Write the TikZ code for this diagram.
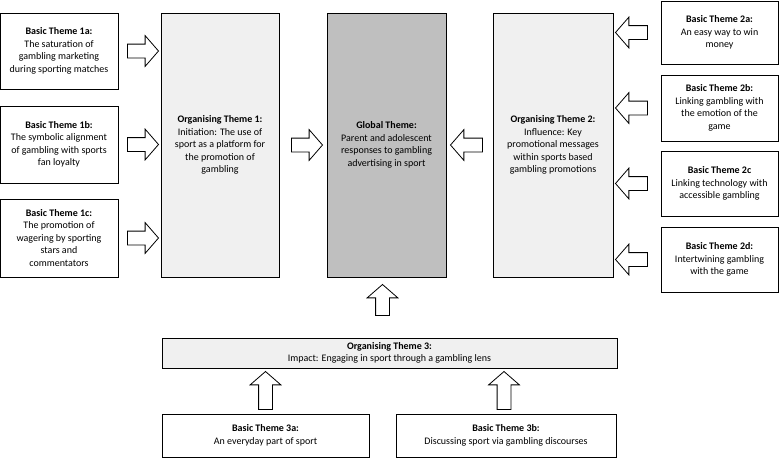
\documentclass[tikz,border=0pt]{standalone}
\usepackage{fontspec}
\setmainfont{Carlito}
\usepackage{tikz}
\usetikzlibrary{calc,shapes.arrows}

\definecolor{orgfill}{RGB}{240,240,240}
\definecolor{globfill}{RGB}{191,191,191}
\newcommand{\thm}{\fontsize{10}{12.5}\selectfont}

\tikzset{
  basic/.style={draw, line width=1pt, align=center, font=\thm, inner sep=1pt},
  organise/.style={basic, fill=orgfill},
  global/.style={basic, fill=globfill},
  blockarrow/.style={single arrow, draw, fill=white, line width=0.8pt,
    minimum width=30pt, single arrow head extend=8.5pt,
    single arrow tip angle=98, inner xsep=0pt, inner ysep=6.5pt,
    sloped, allow upside down}
}

\newcommand{\blockarrow}[2]{%
  \path let \p1=#1, \p2=#2, \n1={veclen(\x2-\x1,\y2-\y1)} in
    (\p1) -- (\p2) node[blockarrow, midway, minimum height=\n1] {};
}

\begin{document}
\begin{tikzpicture}[x=1pt,y=-1pt]
            \useasboundingbox (0,0) rectangle (779,459);

            \node[basic, minimum width=118, minimum height=76] (b1a) at (59,51)
              {\textbf{Basic Theme 1a:}\\The saturation of\\gambling marketing\\during sporting matches};
            \node[basic, minimum width=118, minimum height=77] (b1b) at (59,144.5)
              {\textbf{Basic Theme 1b:}\\The symbolic alignment\\of gambling with sports\\fan loyalty};
            \node[basic, minimum width=118, minimum height=78] (b1c) at (59,238)
              {\textbf{Basic Theme 1c:}\\The promotion of\\wagering by sporting\\stars and\\commentators};

            \node[organise, minimum width=118, minimum height=264] (o1) at (220,145)
              {\textbf{Organising Theme 1:}\\Initiation: The use of\\sport as a platform for\\the promotion of\\gambling};
            \node[global, minimum width=119, minimum height=264] (gt) at (386.5,145)
              {\textbf{Global Theme:}\\Parent and adolescent\\responses to gambling\\advertising in sport};
            \node[organise, minimum width=120, minimum height=264] (o2) at (553,145)
              {\textbf{Organising Theme 2:}\\Influence: Key\\promotional messages\\within sports based\\gambling promotions};

            \node[basic, minimum width=117, minimum height=63] (b2a) at (719.5,32.5)
              {\textbf{Basic Theme 2a:}\\An easy way to win\\money};
            \node[basic, minimum width=117, minimum height=66] (b2b) at (719.5,108)
              {\textbf{Basic Theme 2b:}\\Linking gambling with\\the emotion of the\\game};
            \node[basic, minimum width=117, minimum height=65] (b2c) at (719.5,183.5)
              {\textbf{Basic Theme 2c}\\Linking technology with\\accessible gambling};
            \node[basic, minimum width=117, minimum height=65] (b2d) at (719.5,259.5)
              {\textbf{Basic Theme 2d:}\\Intertwining gambling\\with the game};

            \node[organise, minimum width=455, minimum height=30] (o3) at (389.5,353)
              {\textbf{Organising Theme 3:}\\Impact: Engaging in sport through a gambling lens};
            \node[basic, minimum width=207, minimum height=43] (b3a) at (265.5,435.5)
              {\textbf{Basic Theme 3a:}\\An everyday part of sport};
            \node[basic, minimum width=220, minimum height=43] (b3b) at (506,435.5)
              {\textbf{Basic Theme 3b:}\\Discussing sport via gambling discourses};

            % arrows into the organising themes
            \blockarrow{($(b1a.east)+(6,0)$)}{($(b1a.east -| o1.west)+(-5,0)$)}
            \blockarrow{($(b1b.east)+(6,0)$)}{($(b1b.east -| o1.west)+(-5,0)$)}
            \blockarrow{($(b1c.east)+(6,0)$)}{($(b1c.east -| o1.west)+(-5,0)$)}
            \blockarrow{($(b2a.west)+(-10,0)$)}{($(b2a.west -| o2.east)+(5,0)$)}
            \blockarrow{($(b2b.west)+(-10,0)$)}{($(b2b.west -| o2.east)+(5,0)$)}
            \blockarrow{($(b2c.west)+(-10,0)$)}{($(b2c.west -| o2.east)+(5,0)$)}
            \blockarrow{($(b2d.west)+(-10,0)$)}{($(b2d.west -| o2.east)+(5,0)$)}
            \blockarrow{($(b3a.north)+(0,-1)$)}{($(b3a.north |- o3.south)+(0,6)$)}
            \blockarrow{($(b3b.north)+(-2,-1)$)}{($(b3b.north |- o3.south)+(-2,6)$)}

            % arrows into the global theme
            \blockarrow{($(o1.east)+(9,0)$)}{($(gt.west)+(-7,0)$)}
            \blockarrow{($(o2.west)+(-7,0)$)}{($(gt.east)+(7,0)$)}
            \blockarrow{($(o3.north)+(-7,-19)$)}{($(gt.south)+(-4,10)$)}
          \end{tikzpicture}
\end{document}
